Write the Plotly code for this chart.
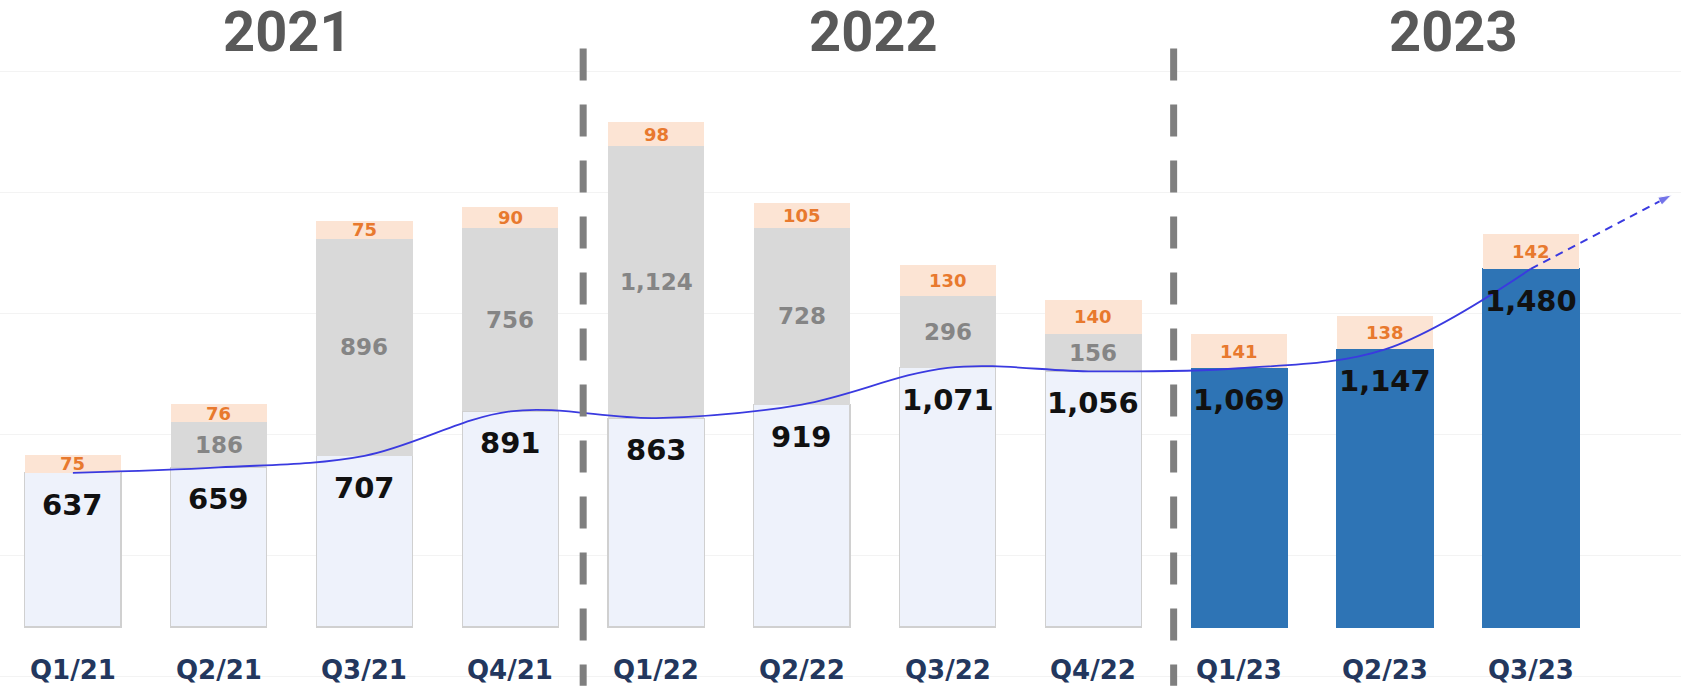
import plotly.graph_objects as go

quarters = ["Q1/21", "Q2/21", "Q3/21", "Q4/21", "Q1/22", "Q2/22", "Q3/22", "Q4/22", "Q1/23", "Q2/23", "Q3/23"]
base_vals = [637, 659, 707, 891, 863, 919, 1071, 1056, 1069, 1147, 1480]
gray_vals = [0, 186, 896, 756, 1124, 728, 296, 156, 0, 0, 0]
top_vals = [75, 76, 75, 90, 98, 105, 130, 140, 141, 138, 142]
years = ["2021", "2022", "2023"]
year_centers = [1.47, 5.49, 9.47]
year_dividers = [3.5, 7.55]
trend_end = 1785

x = list(range(len(quarters)))
base_colors = ["#2E74B5" if q.endswith("/23") else "#EEF2FB" for q in quarters]
base_lines = ["#2E74B5" if q.endswith("/23") else "#D0D0D0" for q in quarters]

fig = go.Figure()
W = 0.66
fig.add_trace(go.Bar(x=x, y=base_vals, width=W, marker=dict(color=base_colors, line=dict(color=base_lines, width=1.2)), hoverinfo="skip"))
fig.add_trace(go.Bar(x=x, y=gray_vals, width=W, marker=dict(color="#D9D9D9", line=dict(width=0)), hoverinfo="skip"))
fig.add_trace(go.Bar(x=x, y=top_vals, width=W, marker=dict(color="#FCE4D4", line=dict(width=0)), hoverinfo="skip"))

# trend line
fig.add_trace(go.Scatter(x=x, y=base_vals, mode="lines", line=dict(color="#3A3AE0", width=1.8, shape="spline", smoothing=1.0), hoverinfo="skip"))
fig.add_trace(go.Scatter(x=[x[-1], x[-1] + 0.965], y=[base_vals[-1], trend_end], mode="lines+markers",
                         line=dict(color="#3A3AE0", width=2, dash="8px,6px"),
                         marker=dict(symbol=["circle", "arrow"], size=[0, 14], angleref="previous", color="#3A3AE0"),
                         cliponaxis=False, hoverinfo="skip"))

ann = []
for i, q in enumerate(quarters):
    b, g, t = base_vals[i], gray_vals[i], top_vals[i]
    ann.append(dict(x=i, y=b, yshift=-32, text=f"<b>{b:,}</b>", showarrow=False,
                    font=dict(family="DejaVu Sans", size=29, color="#111111")))
    if g > 0:
        ann.append(dict(x=i, y=b + g / 2, text=f"<b>{g:,}</b>", showarrow=False,
                        font=dict(family="DejaVu Sans", size=23, color="#858585")))
    ann.append(dict(x=i, y=b + g + t / 2, text=f"<b>{t:,}</b>", showarrow=False,
                    font=dict(family="DejaVu Sans", size=18, color="#E8792E")))
    ann.append(dict(x=i, y=-178, text=f"<b>{q}</b>", showarrow=False,
                    font=dict(family="DejaVu Sans", size=26, color="#23375E")))
for yc, yr in zip(year_centers, years):
    ann.append(dict(x=yc, y=1.0, yref="paper", yanchor="top", yshift=3, text=f"<b>{yr}</b>", showarrow=False,
                    font=dict(family="Roboto, sans-serif", size=56, color="#595959")))

shapes = []
for xd in year_dividers:
    shapes.append(dict(type="line", xref="x", yref="paper", x0=xd, x1=xd, y0=0.93, y1=0.009,
                       line=dict(color="#7F7F7F", width=7, dash="32px,24px")))

fig.update_layout(
    barmode="stack",
    width=1681, height=692,
    margin=dict(l=0, r=0, t=0, b=0),
    paper_bgcolor="white", plot_bgcolor="white",
    showlegend=False,
    annotations=ann, shapes=shapes,
    xaxis=dict(range=[-0.5, 11.03], showgrid=False, zeroline=False, showticklabels=False, fixedrange=True),
    yaxis=dict(range=[-269, 2591], tick0=297, dtick=500, showgrid=True, gridcolor="#F3F3F3", gridwidth=1,
               zeroline=False, showticklabels=False, fixedrange=True),
)

fig.write_html("out.html", config={"displayModeBar": False},
               post_script="document.body.style.margin='0';document.body.style.overflow='hidden';")
